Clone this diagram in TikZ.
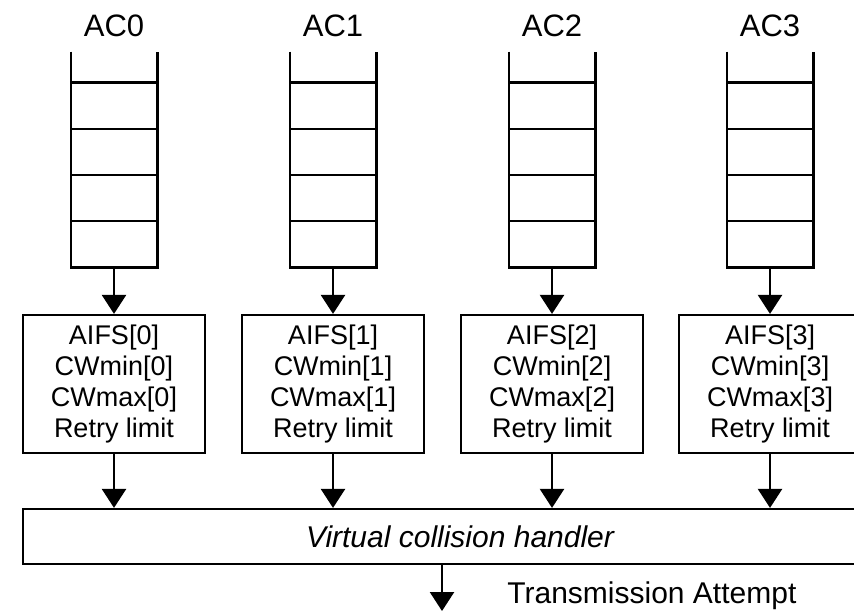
\documentclass[tikz,border=0pt]{standalone}
\usepackage{fontspec}
\setmainfont{Liberation Sans}
\usetikzlibrary{arrows.meta,positioning}

\begin{document}
\begin{tikzpicture}[x=0.5pt, y=-0.5pt, line join=miter,
		queue/.style={minimum width=43pt, minimum height=107.5pt, inner sep=0pt},
		acname/.style={font=\fontsize{15.5}{18}\selectfont, inner sep=0pt},
		param/.style={draw, line width=1.1pt, minimum width=91pt, minimum height=69pt,
			align=center, inner sep=0pt, font=\fontsize{13.5}{15.5}\selectfont},
		handler/.style={draw, line width=1.1pt, minimum width=437pt, minimum height=27.5pt,
			inner sep=0pt, font=\fontsize{15}{18}\selectfont\itshape},
		flow/.style={-{Triangle[width=12pt,length=9.5pt]}, line width=1.2pt}]
	% Picture window (right side of the original is cut off)
	\useasboundingbox (0,0) rectangle (854,612);
	\clip (0,0) rectangle (854,612);
	
	% One queue and one parameter set per access category
	\foreach \i/\x in {0/114,1/333,2/552,3/770} {
		\node[acname] (ac\i) at (\x,26) {AC\i};
		\node[queue] (q\i) at (\x,159.5) {};
		% open-topped queue with four slots
		\draw[line width=1.1pt] (q\i.north west) -- (q\i.south west)
			-- (q\i.south east) -- (q\i.north east);
		\foreach \k in {1,...,4}
			\draw[line width=1.1pt] ([yshift=\k*23.125pt]q\i.south west)
				-- ([yshift=\k*23.125pt]q\i.south east);
		\node[param] (p\i) at (\x,384) {AIFS[\i]\\CWmin[\i]\\CWmax[\i]\\Retry limit};
		\draw[flow] (q\i.south) -- (p\i.north);
	}
	
	% Shared handler below the parameter boxes
	\node[handler] (vch) at (460,536.5) {Virtual collision handler};
	\foreach \i in {0,...,3}
		\draw[flow] (p\i.south) -- (p\i.south |- vch.north);
	
	% Output of the handler
	\coordinate (out) at (442,611);
	\draw[flow] (vch.south -| out) -- (out);
	\node[anchor=base west, font=\fontsize{15}{18}\selectfont, inner sep=0pt]
		(attempt) at (507,603) {Transmission Attempt};
\end{tikzpicture}
\end{document}
